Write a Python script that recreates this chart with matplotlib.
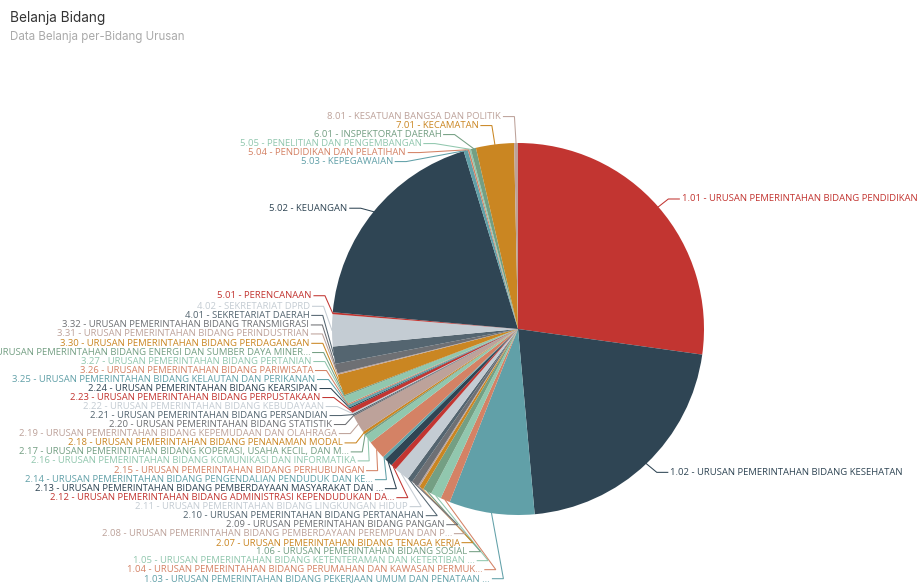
import numpy as np
import matplotlib
matplotlib.use("Agg")
import matplotlib.pyplot as plt

# slice shares (clockwise from 12 o'clock)
kode = ["1.01", "1.02", "1.03", "1.04", "1.05", "1.06", "2.07", "2.08", "2.09", "2.10",
        "2.11", "2.12", "2.13", "2.14", "2.15", "2.16", "2.17", "2.18", "2.19", "2.20",
        "2.21", "2.22", "2.23", "2.24", "3.25", "3.26", "3.27", "3.28", "3.30", "3.31",
        "3.32", "4.01", "4.02", "5.01", "5.02", "5.03", "5.04", "5.05", "6.01", "7.01", "8.01"]
nama = ["URUSAN PEMERINTAHAN BIDANG PENDIDIKAN",
        "URUSAN PEMERINTAHAN BIDANG KESEHATAN",
        "URUSAN PEMERINTAHAN BIDANG PEKERJAAN UMUM DAN PENATAAN ...",
        "URUSAN PEMERINTAHAN BIDANG PERUMAHAN DAN KAWASAN PERMUK...",
        "URUSAN PEMERINTAHAN BIDANG KETENTERAMAN DAN KETERTIBAN ...",
        "URUSAN PEMERINTAHAN BIDANG SOSIAL",
        "URUSAN PEMERINTAHAN BIDANG TENAGA KERJA",
        "URUSAN PEMERINTAHAN BIDANG PEMBERDAYAAN PEREMPUAN DAN P...",
        "URUSAN PEMERINTAHAN BIDANG PANGAN",
        "URUSAN PEMERINTAHAN BIDANG PERTANAHAN",
        "URUSAN PEMERINTAHAN BIDANG LINGKUNGAN HIDUP",
        "URUSAN PEMERINTAHAN BIDANG ADMINISTRASI KEPENDUDUKAN DA...",
        "URUSAN PEMERINTAHAN BIDANG PEMBERDAYAAN MASYARAKAT DAN ...",
        "URUSAN PEMERINTAHAN BIDANG PENGENDALIAN PENDUDUK DAN KE...",
        "URUSAN PEMERINTAHAN BIDANG PERHUBUNGAN",
        "URUSAN PEMERINTAHAN BIDANG KOMUNIKASI DAN INFORMATIKA",
        "URUSAN PEMERINTAHAN BIDANG KOPERASI, USAHA KECIL, DAN M...",
        "URUSAN PEMERINTAHAN BIDANG PENANAMAN MODAL",
        "URUSAN PEMERINTAHAN BIDANG KEPEMUDAAN DAN OLAHRAGA",
        "URUSAN PEMERINTAHAN BIDANG STATISTIK",
        "URUSAN PEMERINTAHAN BIDANG PERSANDIAN",
        "URUSAN PEMERINTAHAN BIDANG KEBUDAYAAN",
        "URUSAN PEMERINTAHAN BIDANG PERPUSTAKAAN",
        "URUSAN PEMERINTAHAN BIDANG KEARSIPAN",
        "URUSAN PEMERINTAHAN BIDANG KELAUTAN DAN PERIKANAN",
        "URUSAN PEMERINTAHAN BIDANG PARIWISATA",
        "URUSAN PEMERINTAHAN BIDANG PERTANIAN",
        "URUSAN PEMERINTAHAN BIDANG ENERGI DAN SUMBER DAYA MINER...",
        "URUSAN PEMERINTAHAN BIDANG PERDAGANGAN",
        "URUSAN PEMERINTAHAN BIDANG PERINDUSTRIAN",
        "URUSAN PEMERINTAHAN BIDANG TRANSMIGRASI",
        "SEKRETARIAT DAERAH",
        "SEKRETARIAT DPRD",
        "PERENCANAAN",
        "KEUANGAN",
        "KEPEGAWAIAN",
        "PENDIDIKAN DAN PELATIHAN",
        "PENELITIAN DAN PENGEMBANGAN",
        "INSPEKTORAT DAERAH",
        "KECAMATAN",
        "KESATUAN BANGSA DAN POLITIK"]
nilai = [98.0, 77.0, 26.7, 3.0, 3.3, 2.8, 1.4, 0.5, 2.2, 1.6,
         4.8, 1.8, 2.6, 1.0, 5.9, 2.6, 0.6, 0.8, 5.6, 0.4,
         0.4, 0.4, 1.5, 0.4, 0.8, 0.4, 2.5, 0.4, 6.6, 0.4,
         3.0, 5.4, 10.0, 0.6, 67.9, 1.3, 0.5, 0.5, 1.6, 11.9, 1.2]

palet = ["#c23531", "#2f4554", "#61a0a8", "#d48265", "#91c7ae", "#749f83",
         "#ca8622", "#bda29a", "#6e7074", "#546570", "#c4ccd3"]
warna = [palet[i % len(palet)] for i in range(len(nilai))]

W, H = 922, 587
CX, CY, R = 518, 329, 186
LEN, LEN2, LH = 12, 11, 9.0
STEP, GAP0, GAP1 = 7.6, 3.8, 2.3  # echarts' 10/5/3 px at this screenshot's scale
VH = H + 6  # chart area goes a little past the bottom of the shot

fig = plt.figure(figsize=(W / 100, H / 100), dpi=100)
ax = fig.add_axes([0, 0, 1, 1])
wedges, _ = ax.pie(nilai, colors=warna, startangle=270, counterclock=True,
                   center=(CX, CY), radius=R, wedgeprops=dict(linewidth=0))
ax.set_xlim(0, W)
ax.set_ylim(H, 0)
ax.axis("off")

# label placement, same idea as echarts' pie label layout
labs = []
for i, w in enumerate(wedges):
    a = np.deg2rad((w.theta1 + w.theta2) / 2)
    dx, dy = np.cos(a), np.sin(a)
    x1, y1 = CX + R * dx, CY + R * dy
    x2, y2 = CX + (R + LEN) * dx, CY + (R + LEN) * dy
    s = -1 if dx < 0 else 1
    x3 = x2 + s * LEN2
    labs.append(dict(i=i, x=x3 + s * GAP0, y=y2, pts=[[x1, y1], [x2, y2], [x3, y2]]))


def adjust(lst, d):
    lst.sort(key=lambda l: l["y"])

    def shift_up(end, delta):
        for j in range(end, -1, -1):
            if lst[j]["y"] - delta < 0:
                break
            lst[j]["y"] -= delta
            if j > 0 and lst[j]["y"] > lst[j - 1]["y"] + LH:
                break

    def shift_down(start, end, delta):
        for j in range(start, end):
            if lst[j]["y"] + delta > VH:
                break
            lst[j]["y"] += delta
            if j > start and j + 1 < end and lst[j + 1]["y"] > lst[j]["y"] + LH:
                shift_up(j, delta / 2)
                return
        shift_up(end - 1, delta / 2)

    last = 0
    for k in range(len(lst)):
        delta = lst[k]["y"] - last
        if delta < 0:
            shift_down(k, len(lst), -delta)
        last = lst[k]["y"] + LH
    if VH - last < 0:
        shift_up(len(lst) - 1, last - VH)

    up = [l for l in lst if l["y"] < CY]
    down = [l for l in lst if l["y"] >= CY]
    for grp, is_down in ((up, False), (down, True)):
        lastdx = np.inf if is_down else 0
        for l in grp:
            ddy = abs(l["y"] - CY)
            if ddy < R + LEN:
                ddx = np.sqrt((R + LEN + LEN2) ** 2 - ddy ** 2)
            else:
                ddx = abs(l["x"] - CX)
            if is_down and ddx >= lastdx:
                ddx = lastdx - STEP
            if not is_down and ddx <= lastdx:
                ddx = lastdx + STEP
            l["x"] = CX + ddx * d
            lastdx = ddx


adjust([l for l in labs if l["x"] < CX], -1)
adjust([l for l in labs if l["x"] >= CX], 1)

for l in labs:
    i = l["i"]
    p = l["pts"]
    s = -1 if l["x"] < CX else 1
    dist = p[1][0] - p[2][0]
    p[2][0] = l["x"] - s * GAP1
    p[1][0] = p[2][0] + dist
    p[1][1] = p[2][1] = l["y"]
    xs, ys = zip(*p)
    ax.plot(xs, ys, color=warna[i], lw=0.75, solid_joinstyle="miter")
    ax.text(l["x"], l["y"], f"{kode[i]} - {nama[i]}", color=warna[i],
            fontsize=6.8, family="Open Sans", ha="left" if s > 0 else "right",
            va="center")

fig.text(10 / W, 1 - 18 / H, "Belanja Bidang", fontsize=9.8, family="Inter",
         color="#333333", va="center")
fig.text(10 / W, 1 - 37 / H, "Data Belanja per-Bidang Urusan", fontsize=8.3,
         family="Inter", color="#aaaaaa", va="center")

fig.savefig("out.png", dpi=100, facecolor="white")
